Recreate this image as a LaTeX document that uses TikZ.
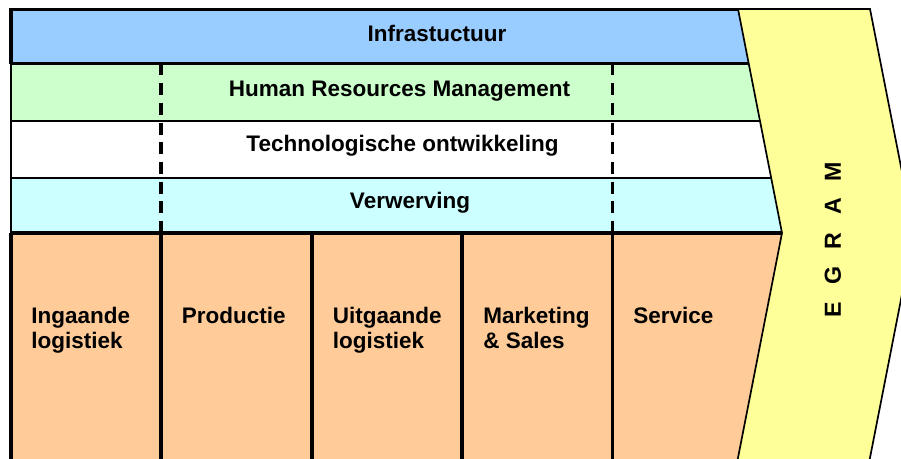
\documentclass[tikz,border=0pt]{standalone}
\usepackage{fontspec}
\setmainfont{Liberation Sans}

\definecolor{infrablue}{HTML}{99CCFF}
\definecolor{hrmgreen}{HTML}{CCFFCC}
\definecolor{verwcyan}{HTML}{CCFFFF}
\definecolor{primorange}{HTML}{FFCC99}
\definecolor{margeyellow}{HTML}{FFFF99}

\begin{document}
\begin{tikzpicture} [x=0.25cm, y=-0.25cm, every node/.style={font=\fontsize{16}{17.8}\selectfont\bfseries}]
	
	\tikzstyle{line1} = [line width=2.6pt]
	\tikzstyle{line2} = [line width=1.2pt]
	\tikzstyle{dash1} = [line width=2.6pt, dash pattern=on 8.5pt off 5.5pt]
	\tikzstyle{node1} = [text=black, inner sep=0, anchor=base];
	\tikzstyle{node2} = [text=black, inner sep=0, align=left, anchor=north west];
	\tikzstyle{node3} = [text=black, inner sep=0, rotate=90, font=\fontsize{16.5}{18}\selectfont\bfseries];
	
	\clip (0,0) rectangle (90.1,45.8);
	
	% ondersteunende activiteiten
	\fill [infrablue] (1.1,0.95) rectangle (80,6.35);
	\fill [hrmgreen] (1.1,6.35) rectangle (80,12.1);
	\fill [white] (1.1,12.1) rectangle (80,17.8);
	\fill [verwcyan] (1.1,17.8) rectangle (80,23.3);
	\fill [primorange] (1.1,23.3) rectangle (80,47);
	
	\draw [line2] (1.1,6.35) -- (1.1,23.3);
	\draw [line2] (1.1,12.1) -- (80,12.1);
	\draw [line2] (1.1,17.8) -- (80,17.8);
	\draw [line1] (1.1,6.35) -- (80,6.35);
	\draw [line1] (1.1,23.3) -- (80,23.3);
	\draw [line1] (80,0.95) -- (1.1,0.95) -- (1.1,6.35);
	\draw [line1] (1.1,23.3) -- (1.1,47);
	
	\draw [dash1] (16.1,6.35) -- (16.1,23.3);
	\draw [dash1] (61.25,6.35) -- (61.25,23.3);
	
	% primaire activiteiten
	\draw [line1] (16.1,23.3) -- (16.1,47);
	\draw [line1] (31.2,23.3) -- (31.2,47);
	\draw [line1] (46.2,23.3) -- (46.2,47);
	\draw [line1] (61.25,23.3) -- (61.25,47);
	
	% marge
	\draw [line2, fill=margeyellow] (73.8,0.9) -- (87.0,0.9) -- (91.4,23.3) -- (86.76,47) -- (73.56,47) -- (78.2,23.3) -- cycle;
	
	\node [node1] (infra) at (43.7,4.1){Infrastuctuur};
	\node [node1] (hrm) at (39.95,9.67){Human Resources Management};
	\node [node1] (tech) at (40.25,15.17){Technologische ontwikkeling};
	\node [node1] (verw) at (41.0,20.87){Verwerving};
	
	\node [node2] (ingaande) at (3.1,30.7){Ingaande\\logistiek};
	\node [node2] (productie) at (18.15,30.7){Productie};
	\node [node2] (uitgaande) at (33.25,30.7){Uitgaande\\logistiek};
	\node [node2] (marketing) at (48.3,30.7){Marketing\\\& Sales};
	\node [node2] (service) at (63.3,30.7){Service};
	
	\foreach \letter [count=\i] in {M,A,R,G,E}
		\node [node3] (m\i) at (83.3,13.8+3.43*\i){\letter};
	
\end{tikzpicture}
\end{document}
